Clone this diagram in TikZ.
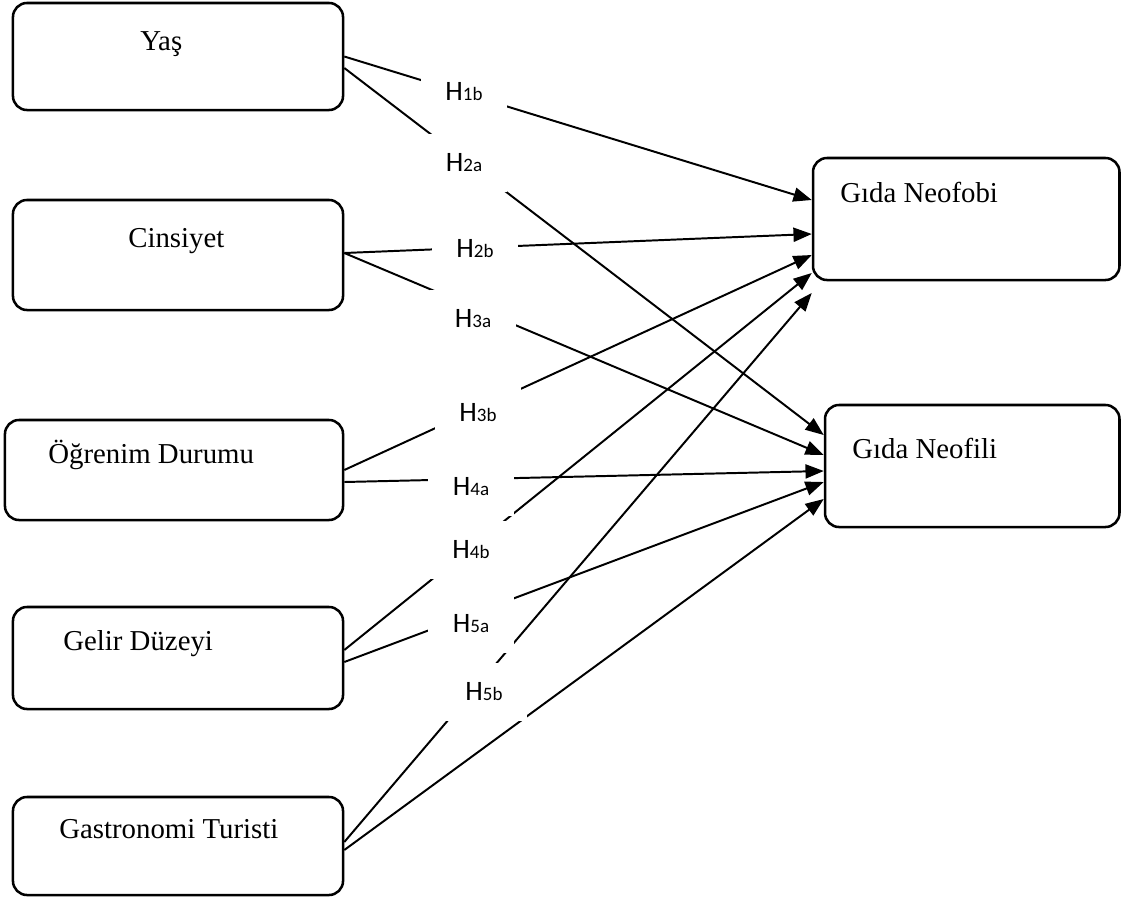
\documentclass[tikz,border=0pt]{standalone}
\usepackage{fontspec}
\setmainfont{Liberation Serif}
\newfontfamily\hypfont{Carlito}
\usetikzlibrary{arrows.meta,positioning,calc}
\tikzset{
  varbox/.style={draw=black, line width=1.8pt, rounded corners=10pt, fill=white, inner sep=0pt},
  vartxt/.style={font=\fontsize{20.5}{24}\selectfont, inner sep=0pt, anchor=base west},
  hyparr/.style={-{Triangle[length=13pt,width=10pt]}, line width=1.4pt},
  hyplab/.style={fill=white, minimum width=2.15cm, minimum height=1.45cm, inner sep=0pt},
}
\newcommand{\hlab}[1]{{\hypfont\fontsize{20}{23}\selectfont H{\fontsize{13.5}{15}\selectfont #1}}}

\begin{document}
\begin{tikzpicture}[x=0.025cm, y=-0.025cm]
    \useasboundingbox (0,0) rectangle (1121,897);
    \node[varbox, minimum width=8.25cm, minimum height=2.675cm] (yas) at (178,56.5) {};
    \node[varbox, minimum width=8.25cm, minimum height=2.75cm] (cins) at (178,255) {};
    \node[varbox, minimum width=8.45cm, minimum height=2.5cm] (ogr) at (174,470) {};
    \node[varbox, minimum width=8.25cm, minimum height=2.55cm] (gelir) at (178,658) {};
    \node[varbox, minimum width=8.25cm, minimum height=2.45cm] (gastro) at (178,846) {};
    \node[varbox, minimum width=7.66cm, minimum height=3.05cm] (neofobi) at (966.25,219) {};
    \node[varbox, minimum width=7.36cm, minimum height=3.05cm] (neofili) at (972.25,466) {};
    \node[vartxt] (yas-t) at (140,50) {Yaş};
    \node[vartxt] (cins-t) at (128,247) {Cinsiyet};
    \node[vartxt] (ogr-t) at (48,463) {Öğrenim Durumu};
    \node[vartxt] (gelir-t) at (63,650) {Gelir Düzeyi};
    \node[vartxt] (gastro-t) at (59,838) {Gastronomi Turisti};
    \node[vartxt] (neofobi-t) at (840,202) {Gıda Neofobi};
    \node[vartxt] (neofili-t) at (852,458) {Gıda Neofili};
    \draw[hyparr] (yas.east) -- ($(neofobi.west)+(0,-19)$);
    \draw[hyparr] ($(yas.east)+(0,11.5)$) -- ($(neofili.west)+(0,-31)$);
    \draw[hyparr] ($(cins.east)+(0,-2)$) -- ($(neofobi.west)+(0,15)$);
    \draw[hyparr] ($(cins.east)+(0,-2)$) -- ($(neofili.west)+(0,-11)$);
    \draw[hyparr] (ogr.east) -- ($(neofobi.west)+(0,36)$);
    \draw[hyparr] ($(ogr.east)+(0,12)$) -- ($(neofili.west)+(0,5)$);
    \draw[hyparr] ($(gelir.east)+(0,-8)$) -- ($(neofobi.west)+(0,54)$);
    \draw[hyparr] ($(gelir.east)+(0,4)$) -- ($(neofili.west)+(0,16)$);
    \draw[hyparr] ($(gastro.east)+(0,-4)$) -- ($(neofobi.west)+(0,74)$);
    \draw[hyparr] ($(gastro.east)+(0,4)$) -- ($(neofili.west)+(0,33)$);
    \node[hyplab] (h1b) at (464,92) {\hlab{1b}};
    \node[hyplab] (h2a) at (464,163) {\hlab{2a}};
    \node[hyplab] (h2b) at (475,249) {\hlab{2b}};
    \node[hyplab] (h3a) at (473,319) {\hlab{3a}};
    \node[hyplab] (h3b) at (478,413) {\hlab{3b}};
    \node[hyplab] (h4a) at (471,487) {\hlab{4a}};
    \node[hyplab] (h4b) at (471,550) {\hlab{4b}};
    \node[hyplab] (h5a) at (471,624) {\hlab{5a}};
    \node[hyplab] (h5b) at (484,692) {\hlab{5b}};
\end{tikzpicture}
\end{document}
